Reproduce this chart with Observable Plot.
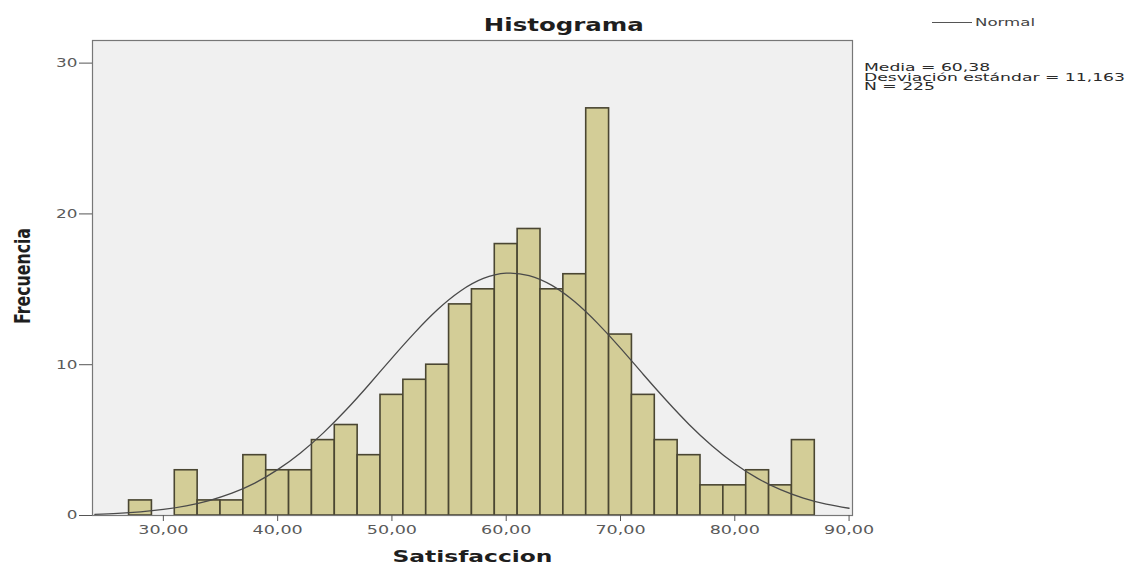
<!DOCTYPE html>
<html>
<head>
<meta charset="utf-8">
<script src="https://cdn.jsdelivr.net/npm/d3@7"></script>
<script src="https://cdn.jsdelivr.net/npm/@observablehq/plot@0.6"></script>
<style>
  body { margin: 0; background: #fff; }
  #wrap { position: relative; width: 1127px; height: 564px; overflow: hidden; }
  #title { position: absolute; top: 14px; left: 0; width: 1127px; text-align: center; line-height: 22px; }
  #title span { display: inline-block; font: bold 18px "DejaVu Sans", sans-serif; color: #1e1e1e; transform-origin: center; }
  #legend { position: absolute; top: 16px; left: 932px; height: 12px; display: flex; align-items: center; }
  #legend .ln { display: inline-block; width: 40px; border-top: 1.2px solid #555; margin-right: 3px; }
  #legend .tx { display: inline-block; font: 10px "DejaVu Sans", sans-serif; color: #444; transform-origin: left center; }
  #stats { position: absolute; top: 63px; left: 864px; font: 10.5px "DejaVu Sans", sans-serif; color: #2a2a2a; line-height: 9.6px; white-space: pre; transform-origin: left top; }
</style>
</head>
<body>
<div id="wrap">
  <div id="chart"></div>
  <div id="title"><span>Histograma</span></div>
  <div id="legend"><span class="ln"></span><span class="tx">Normal</span></div>
  <div id="stats"></div>
</div>
<script>
// Bin lower edges (width 2) and frequencies
const binStart = [27, 31, 33, 35, 37, 39, 41, 43, 45, 47, 49, 51, 53, 55, 57, 59, 61, 63, 65, 67, 69, 71, 73, 75, 77, 79, 81, 83, 85];
const counts   = [1, 3, 1, 1, 4, 3, 3, 5, 6, 4, 8, 9, 10, 14, 15, 18, 19, 15, 16, 27, 12, 8, 5, 4, 2, 2, 3, 2, 5];
const binWidth = 2;

// Normal curve heights
const curveX = [24, 26, 28, 30, 32, 34, 36, 38, 40, 42, 44, 46, 48, 50, 52, 54, 56, 58, 60, 62, 64, 66, 68, 70, 72, 74, 76, 78, 80, 82, 84, 86, 88, 90];
const curveY = [0.08, 0.14, 0.24, 0.40, 0.64, 0.99, 1.48, 2.15, 3.04, 4.15, 5.48, 7.01, 8.69, 10.44, 12.13, 13.66, 14.89, 15.72, 16.07, 15.91, 15.26, 14.17, 12.74, 11.10, 9.35, 7.64, 6.04, 4.63, 3.43, 2.46, 1.71, 1.15, 0.75, 0.48];

// Tick values and texts
const xTicks = [30, 40, 50, 60, 70, 80, 90];
const yTicks = [0, 10, 20, 30];
const statLines = ["Media = 60,38", "Desviación estándar = 11,163", "N = 225"];
const xLabel = "Satisfaccion";
const yLabel = "Frecuencia";

const bars = binStart.map((s, i) => ({x1: s, x2: s + binWidth, y: counts[i]}));
const curve = curveX.map((x, i) => ({x, y: curveY[i]}));
const fmt = d => d.toFixed(2).replace(".", ",");

document.getElementById("stats").textContent = statLines.join("\n");

const chart = Plot.plot({
  width: 1127,
  height: 564,
  marginLeft: 92,
  marginRight: 275,
  marginTop: 40,
  marginBottom: 49,
  style: {background: "transparent", fontFamily: "DejaVu Sans, sans-serif"},
  x: {domain: [23.8, 90.3], label: null},
  y: {domain: [0, 31.5], label: null},
  marks: [
    Plot.frame({fill: "#f0f0f0", stroke: "none"}),
    Plot.rectY(bars, {x1: "x1", x2: "x2", y: "y", fill: "#d3cd97", stroke: "#4a4632", strokeWidth: 1.6}),
    Plot.line(curve, {x: "x", y: "y", stroke: "#4a4a4a", strokeWidth: 1.3, curve: "natural"}),
    Plot.frame({stroke: "#777", strokeWidth: 1.2}),
    Plot.axisX({ticks: xTicks, tickSize: 6, tickPadding: 4, tickFormat: fmt, fontSize: 12, color: "#5a5a5a", stroke: "#555", label: null}),
    Plot.axisY({ticks: yTicks, tickSize: 13, tickPadding: 2, fontSize: 12, color: "#5a5a5a", stroke: "#555", label: null}),
    Plot.text([xLabel], {frameAnchor: "bottom", textAnchor: "middle", dy: 46, fontSize: 16, fontWeight: "bold", fill: "#1e1e1e"}),
    Plot.text([yLabel], {frameAnchor: "left", textAnchor: "middle", dx: -70, dy: -2, rotate: -90, fontSize: 22, fontWeight: "bold", fill: "#1e1e1e"})
  ]
});
document.getElementById("chart").appendChild(chart);

// The reference is stretched horizontally: widen horizontal texts to the reference widths
function stretchSvg(t, factor) {
  const w = t.getComputedTextLength();
  t.setAttribute("textLength", (w * factor).toFixed(1));
  t.setAttribute("lengthAdjust", "spacingAndGlyphs");
}
chart.querySelectorAll('g[aria-label="x-axis tick label"] text').forEach(t => stretchSvg(t, 1.46));
chart.querySelectorAll('g[aria-label="y-axis tick label"] text').forEach(t => stretchSvg(t, 1.4));
chart.querySelectorAll("text").forEach(t => {
  if (t.textContent === xLabel) { t.setAttribute("textLength", "160"); t.setAttribute("lengthAdjust", "spacingAndGlyphs"); }
  if (t.textContent === yLabel) { t.setAttribute("textLength", "96"); t.setAttribute("lengthAdjust", "spacingAndGlyphs"); }
});
function stretchHtml(el, target) {
  const w = el.getBoundingClientRect().width;
  el.style.transform = `scaleX(${target / w})`;
}
stretchHtml(document.querySelector("#title span"), 160);
stretchHtml(document.querySelector("#legend .tx"), 60);
stretchHtml(document.getElementById("stats"), 261);
</script>
</body>
</html>
